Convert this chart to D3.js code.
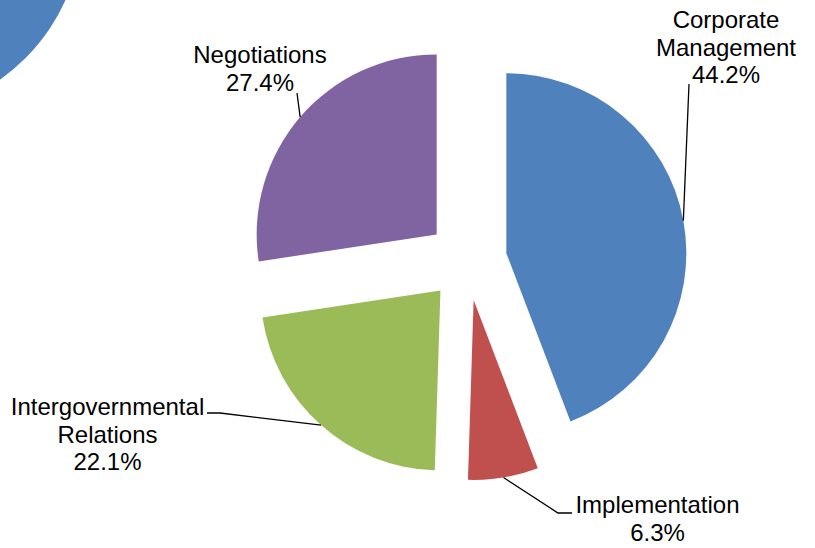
<!DOCTYPE html>
<html>
<head>
<meta charset="utf-8">
<script src="https://cdn.jsdelivr.net/npm/d3@7"></script>
<style>
  html, body { margin: 0; padding: 0; background: #fff; }
  svg { display: block; }
  text { font-family: "Liberation Sans", Arial, sans-serif; font-size: 24px; fill: #000; }
</style>
</head>
<body>
<svg id="chart" width="815" height="548"></svg>
<script>
// ---- data ----
const categories = ["Corporate Management", "Implementation", "Intergovernmental Relations", "Negotiations"];
const values = [44.2, 6.3, 22.1, 27.4];
const labelLines = [["Corporate", "Management", "44.2%"], ["Implementation", "6.3%"], ["Intergovernmental", "Relations", "22.1%"], ["Negotiations", "27.4%"]];
const colors = ["#4F81BD", "#C0504D", "#9BBB59", "#8064A2"];

// ---- layout ----
const W = 815, H = 548;
const cx = 467, cy = 260.5, R = 180, explode = 40;
const lineH = 27.5;
// label centre x, first baseline y, and leader elbow points (label side)
const labelLayout = [
  { x: 726, y: 28, elbow: [[689, 84]] },
  { x: 657.5, y: 513, elbow: [[572, 513], [558, 513]] },
  { x: 107.5, y: 415, elbow: [[207, 413], [220, 413]] },
  { x: 260, y: 63, elbow: [[297, 93]] }
];

const svg = d3.select("#chart");

// fragment of a neighbouring chart in the top-left corner
svg.append("circle").attr("cx", -114).attr("cy", -81).attr("r", 197).attr("fill", colors[0]);

const pie = d3.pie().sort(null).value(d => d)(values);
const arc = d3.arc().innerRadius(0).outerRadius(R);

const g = svg.append("g").attr("transform", `translate(${cx},${cy})`);

pie.forEach((p, i) => {
  const mid = (p.startAngle + p.endAngle) / 2;
  const ox = explode * Math.sin(mid), oy = -explode * Math.cos(mid);
  g.append("path")
    .attr("d", arc(p))
    .attr("transform", `translate(${ox},${oy})`)
    .attr("fill", colors[i]);

  // leader line: from slice edge at bisector to the label
  const ex = cx + ox + R * Math.sin(mid), ey = cy + oy - R * Math.cos(mid);
  const pts = [[ex, ey]].concat(labelLayout[i].elbow.slice().reverse());
  svg.append("path")
    .attr("d", d3.line()(pts.slice().reverse()))
    .attr("fill", "none")
    .attr("stroke", "#000")
    .attr("stroke-width", 1.3);

  const t = svg.append("text").attr("text-anchor", "middle");
  labelLines[i].forEach((ln, j) => {
    t.append("tspan").attr("x", labelLayout[i].x).attr("y", labelLayout[i].y + j * lineH).text(ln);
  });
});
</script>
</body>
</html>
